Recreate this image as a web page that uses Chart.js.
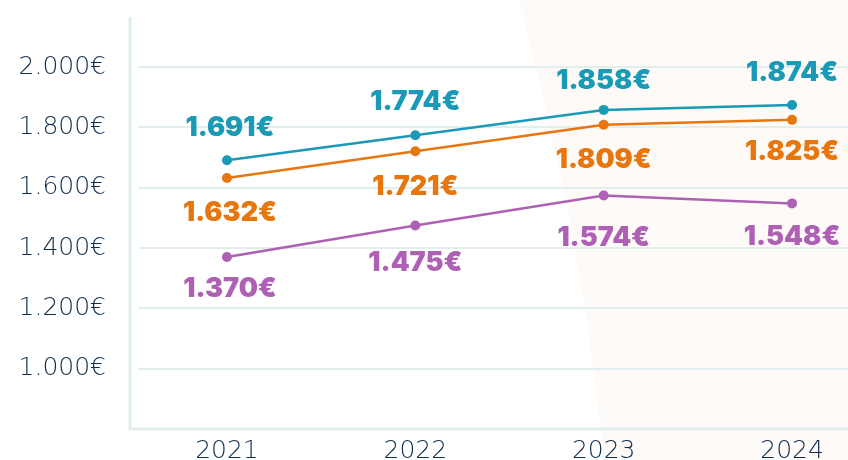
<!DOCTYPE html>
<html>
<head>
<meta charset="utf-8">
<script src="https://cdn.jsdelivr.net/npm/chart.js@4/dist/chart.umd.min.js"></script>
<style>
  html, body { margin: 0; padding: 0; background: #fff; width: 848px; height: 460px; overflow: hidden; }
  #wrap { width: 853px; height: 460px; position: relative; }
</style>
</head>
<body>
<div id="wrap"><canvas id="salaryChart"></canvas></div>
<script>
const years = [2021, 2022, 2023, 2024];
const tealValues = [1691, 1774, 1858, 1874];
const orangeValues = [1632, 1721, 1809, 1825];
const purpleValues = [1370, 1475, 1574, 1548];
const yTickValues = [1000, 1200, 1400, 1600, 1800, 2000];

const TEAL = '#1a9ab6';
const ORANGE = '#e8760f';
const PURPLE = '#ae60b5';
const TEXT = '#0f2e4d';
const AXIS = '#e2eded';

function euro(v) {
    return String(v).replace(/\B(?=(\d{3})+(?!\d))/g, '.') + '€';
}

// soft peach band on the right side of the canvas
const backdrop = {
    id: 'backdrop',
    beforeDraw(chart) {
        const ctx = chart.ctx;
        ctx.save();
        ctx.fillStyle = '#fefaf7';
        ctx.beginPath();
        ctx.moveTo(518, 0);
        ctx.quadraticCurveTo(580, 220, 604, 460);
        ctx.lineTo(chart.width, 460);
        ctx.lineTo(chart.width, 0);
        ctx.closePath();
        ctx.fill();
        ctx.restore();
    }
};

// axis lines sit a little left of where the grid starts
const axisLines = {
    id: 'axisLines',
    beforeDatasetsDraw(chart) {
        const { ctx, chartArea } = chart;
        const x0 = chartArea.left - 9;
        ctx.save();
        ctx.strokeStyle = AXIS;
        ctx.lineWidth = 3;
        ctx.beginPath();
        ctx.moveTo(x0, chartArea.top);
        ctx.lineTo(x0, chartArea.bottom);
        ctx.lineTo(chart.width, chartArea.bottom);
        ctx.stroke();
        ctx.restore();
    }
};

// value labels: teal above the point, the others below
const valueLabels = {
    id: 'valueLabels',
    afterDatasetsDraw(chart) {
        const ctx = chart.ctx;
        ctx.save();
        ctx.font = '900 27px Inter, sans-serif';
        ctx.textAlign = 'center';
        ctx.textBaseline = 'middle';
        chart.data.datasets.forEach((ds, i) => {
            const meta = chart.getDatasetMeta(i);
            ctx.fillStyle = ds.borderColor;
            meta.data.forEach((pt, j) => {
                const dx = j === 0 ? 3 : 0;
                ctx.fillText(euro(ds.data[j].y), pt.x + dx, pt.y + ds.labelOffsets[j]);
            });
        });
        ctx.restore();
    }
};

function series(values, color, offsets) {
    return {
        data: years.map((y, i) => ({ x: y, y: values[i] })),
        borderColor: color,
        backgroundColor: color,
        pointBackgroundColor: color,
        pointBorderWidth: 0,
        pointRadius: 5,
        borderWidth: 2.5,
        tension: 0,
        labelOffsets: offsets
    };
}

const tickFont = { family: 'DejaVu Sans', weight: '200', size: 25 };

new Chart(document.getElementById('salaryChart'), {
    type: 'line',
    data: {
        datasets: [
            series(tealValues, TEAL, [-32, -33, -29, -32]),
            series(orangeValues, ORANGE, [35, 36, 35, 32]),
            series(purpleValues, PURPLE, [32, 37, 42, 33])
        ]
    },
    options: {
        responsive: true,
        maintainAspectRatio: false,
        animation: false,
        layout: { padding: { top: 17, right: 0, left: 0, bottom: 0 } },
        plugins: { legend: { display: false }, tooltip: { enabled: false } },
        scales: {
            x: {
                type: 'linear',
                min: 2020.533,
                max: 2024.297,
                afterBuildTicks: scale => { scale.ticks = years.map(v => ({ value: v })); },
                afterFit: scale => {
                    scale.height = 31;
                    scale.paddingLeft = 0;
                    scale.paddingRight = 0;
                },
                grid: { display: false, drawTicks: false },
                border: { display: false },
                ticks: {
                    padding: 7,
                    color: TEXT,
                    font: tickFont,
                    callback: v => String(v)
                }
            },
            y: {
                min: 800,
                max: 2166,
                afterBuildTicks: scale => { scale.ticks = yTickValues.map(v => ({ value: v })); },
                afterFit: scale => {
                    scale.width = 139;
                    scale.paddingTop = 0;
                    scale.paddingBottom = 0;
                },
                grid: { color: AXIS, lineWidth: 2, drawTicks: false },
                border: { display: false },
                ticks: {
                    padding: 33,
                    color: TEXT,
                    font: tickFont,
                    callback: v => euro(v)
                }
            }
        }
    },
    plugins: [backdrop, axisLines, valueLabels]
});
</script>
</body>
</html>
